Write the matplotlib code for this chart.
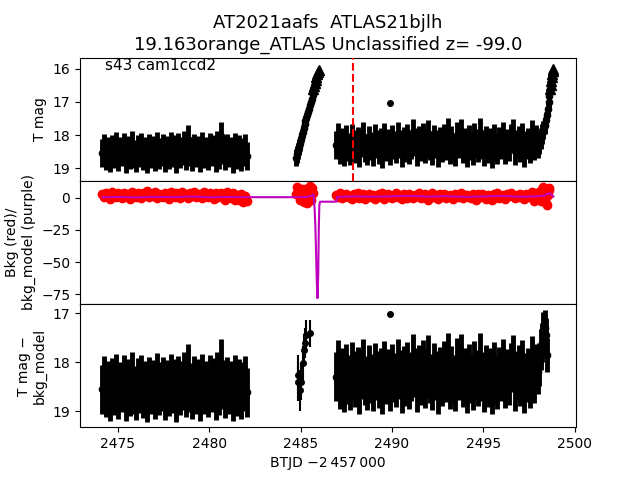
import matplotlib.pyplot as plt

# segment 1 (before the gap)
t1 = [2474.15, 2474.26, 2474.36, 2474.47, 2474.58, 2474.68, 2474.79, 2474.90, 2475.00, 2475.11,
      2475.22, 2475.32, 2475.43, 2475.54, 2475.64, 2475.75, 2475.86, 2475.96, 2476.07, 2476.18,
      2476.28, 2476.39, 2476.50, 2476.60, 2476.71, 2476.82, 2476.92, 2477.03, 2477.14, 2477.24,
      2477.35, 2477.46, 2477.56, 2477.67, 2477.78, 2477.88, 2477.99, 2478.10, 2478.20, 2478.31,
      2478.42, 2478.52, 2478.63, 2478.74, 2478.84, 2478.95, 2479.06, 2479.16, 2479.27, 2479.38,
      2479.48, 2479.59, 2479.70, 2479.80, 2479.91, 2480.02, 2480.12, 2480.23, 2480.34, 2480.44,
      2480.55, 2480.66, 2480.76, 2480.87, 2480.98, 2481.08, 2481.19, 2481.30, 2481.40, 2481.51,
      2481.62, 2481.72, 2481.83, 2481.94, 2482.05]
mag1 = [18.55, 18.38, 18.62, 18.47, 18.70, 18.41, 18.58, 18.33, 18.66, 18.49,
        18.52, 18.36, 18.71, 18.44, 18.60, 18.30, 18.57, 18.68, 18.42, 18.53,
        18.35, 18.64, 18.48, 18.72, 18.39, 18.56, 18.45, 18.67, 18.32, 18.59,
        18.50, 18.40, 18.69, 18.46, 18.61, 18.34, 18.54, 18.43, 18.73, 18.37,
        18.58, 18.47, 18.29, 18.62, 18.12, 18.51, 18.66, 18.38, 18.55, 18.44,
        18.70, 18.33, 18.57, 18.48, 18.63, 18.36, 18.52, 18.41, 18.68, 18.30,
        18.59, 18.02, 18.45, 18.64, 18.39, 18.55, 18.47, 18.71, 18.35, 18.60,
        18.43, 18.66, 18.50, 18.38, 18.62]
bkg1 = [2.5, 0.2, 3.6, 1.4, -0.9, 4.1, 1.9, 0.7, 3.2, 2.1,
        -0.2, 3.8, 1.2, 2.7, -1.1, 4.4, 1.6, 0.5, 3.4, 2.3,
        -0.5, 3.9, 1.8, 5.2, 0.1, 2.9, 1.1, 4.3, -0.7, 3.1,
        2.0, 0.6, 3.7, 1.5, -1.3, 4.0, 2.4, 0.3, 3.5, 1.3,
        -0.1, 4.6, 1.7, 2.8, -0.6, 3.3, 1.0, 4.2, 0.4, 2.6,
        3.0, -0.3, 4.5, 1.9, 0.8, 3.6, 2.2, -0.8, 3.9, 1.4,
        0.1, 3.2, 2.5, -1.5, 4.1, 1.6, -0.4, 3.4, -2.2, 2.0,
        -1.8, 2.9, -3.1, 1.2, -2.5]

# segment 2 (short rise before the background dip)
t2 = [2484.76, 2484.81, 2484.86, 2484.91, 2484.96, 2485.01, 2485.06, 2485.11, 2485.16, 2485.21,
      2485.26, 2485.31, 2485.36, 2485.41, 2485.46, 2485.51, 2485.56, 2485.61, 2485.66]
mag2 = [18.68, 18.58, 18.47, 18.36, 18.25, 18.13, 18.01, 17.90, 17.79, 17.68,
        17.57, 17.47, 17.38, 17.29, 17.20, 17.10, 17.01, 16.92, 16.80]
err2 = [0.26, 0.25, 0.24, 0.23, 0.22, 0.21, 0.20, 0.19, 0.18, 0.17,
        0.16, 0.15, 0.15, 0.14, 0.13, 0.13, 0.12, 0.12, 0.11]
bkg2 = [3.0, 8.5, 6.0, 4.7, -1.8, 2.5, 7.0, 0.5, -3.5, 5.0,
        6.8, 2.0, -4.3, 1.0, 4.5, 9.0, -2.0, 7.8, 3.5]
t2u = [2485.70, 2485.74, 2485.78, 2485.82, 2485.86, 2485.90, 2485.94, 2485.98]
mag2u = [16.62, 16.52, 16.42, 16.33, 16.24, 16.16, 16.08, 16.02]
t2b = [2484.83, 2484.86, 2484.95, 2485.04, 2485.13, 2485.17, 2485.22, 2485.31, 2485.49]
diff2 = [18.26, 18.40, 18.57, 18.40, 18.02, 17.75, 17.61, 17.44, 17.41]
err2b = [0.40, 0.40, 0.42, 0.38, 0.35, 0.32, 0.30, 0.30, 0.28]

# segment 3 (after the gap)
t3 = [2486.95, 2487.06, 2487.16, 2487.27, 2487.37, 2487.48, 2487.58, 2487.69, 2487.79, 2487.90,
      2488.00, 2488.11, 2488.21, 2488.32, 2488.42, 2488.53, 2488.63, 2488.74, 2488.84, 2488.95,
      2489.05, 2489.16, 2489.26, 2489.37, 2489.47, 2489.58, 2489.68, 2489.79, 2489.89, 2490.00,
      2490.10, 2490.21, 2490.31, 2490.42, 2490.52, 2490.63, 2490.73, 2490.84, 2490.94, 2491.05,
      2491.15, 2491.26, 2491.36, 2491.47, 2491.57, 2491.68, 2491.78, 2491.89, 2491.99, 2492.10,
      2492.20, 2492.31, 2492.41, 2492.52, 2492.62, 2492.73, 2492.83, 2492.94, 2493.04, 2493.15,
      2493.25, 2493.36, 2493.46, 2493.57, 2493.67, 2493.78, 2493.88, 2493.99, 2494.09, 2494.20,
      2494.30, 2494.41, 2494.51, 2494.62, 2494.72, 2494.83, 2494.93, 2495.04, 2495.14, 2495.25,
      2495.35, 2495.46, 2495.56, 2495.67, 2495.77, 2495.88, 2495.98, 2496.09, 2496.19, 2496.30,
      2496.40, 2496.51, 2496.61, 2496.72, 2496.82, 2496.93, 2497.03, 2497.14, 2497.24, 2497.35,
      2497.45, 2497.56, 2497.66, 2497.77, 2497.87]
mag3 = [18.30, 18.05, 18.45, 18.22, 18.52, 18.12, 18.36, 18.48, 18.08, 18.28,
        18.41, 18.18, 18.55, 18.25, 18.03, 18.38, 18.47, 18.15, 18.33, 18.50,
        18.10, 18.27, 18.44, 18.20, 18.56, 18.06, 18.35, 18.23, 18.49, 18.13,
        18.31, 18.42, 18.02, 18.26, 18.53, 18.17, 18.39, 18.09, 18.46, 18.29,
        17.92, 18.21, 18.51, 18.14, 18.37, 18.04, 18.43, 18.24, 17.95, 18.34,
        18.48, 18.11, 18.27, 18.55, 18.19, 18.40, 18.07, 18.32, 17.90, 18.45,
        18.16, 18.36, 18.50, 18.01, 18.28, 17.93, 18.42, 18.22, 18.54, 18.12,
        18.33, 18.47, 18.06, 18.25, 18.39, 17.91, 18.30, 18.52, 18.14, 18.41,
        18.20, 18.57, 18.08, 18.35, 18.46, 18.18, 18.29, 18.03, 18.44, 18.23,
        18.37, 18.10, 17.94, 18.49, 18.27, 18.15, 18.40, 18.05, 18.53, 18.31,
        18.21, 18.43, 17.96, 18.34, 18.12]
bkg3 = [2.1, 0.4, 3.5, -0.6, 1.8, 2.9, 0.1, 1.4, -1.2, 2.6,
        0.8, 3.2, -0.3, 1.9, 2.4, -1.0, 1.1, 3.0, 0.5, 2.2,
        -0.8, 1.6, 2.8, 0.2, 3.4, -1.4, 1.3, 2.5, 0.7, -0.2,
        2.0, 3.6, 0.3, 1.7, -1.1, 2.7, 1.0, 0.0, 3.1, 1.5,
        -0.7, 2.3, 0.9, 3.3, -0.4, 1.2, 2.6, 0.6, -1.6, 2.0,
        3.2, 0.4, 1.8, -0.9, 2.5, 1.1, 3.0, -0.1, 1.6, 2.3,
        0.2, -1.3, 2.8, 1.4, 0.5, 3.4, -0.5, 1.9, 2.2, 0.8,
        -0.3, 2.9, 1.0, -1.5, 2.4, 0.3, 3.1, 1.7, -0.8, 2.1,
        1.2, -2.2, 2.6, 0.6, 3.3, -0.2, 1.5, 2.0, -1.0, 2.7,
        0.9, 3.5, 1.3, -0.6, 2.2, 0.1, 2.8, 1.6, -1.2, 3.0,
        0.7, 2.4, 4.5, -3.0, 3.8]

# final rise at the end of segment 3
t4 = [2497.98, 2498.06, 2498.14, 2498.21, 2498.28, 2498.35, 2498.41, 2498.47, 2498.52, 2498.57, 2498.61]
mag4 = [18.32, 18.22, 18.10, 17.97, 17.84, 17.70, 17.55, 17.38, 17.20, 17.00, 16.82]
err4 = [0.36, 0.34, 0.32, 0.30, 0.28, 0.26, 0.24, 0.22, 0.20, 0.18, 0.16]
bkg4 = [1.8, 4.2, -2.5, 6.5, 8.0, 3.0, -4.5, -6.0, 2.0, 5.5, 7.5]
t4u = [2498.65, 2498.69, 2498.72, 2498.75, 2498.78, 2498.81, 2498.83]
mag4u = [16.62, 16.48, 16.36, 16.25, 16.15, 16.06, 16.00]
t4b = [2497.98, 2498.06, 2498.14, 2498.21, 2498.28, 2498.35, 2498.41, 2498.46]
diff4 = [18.20, 18.05, 17.75, 17.60, 17.35, 17.30, 17.45, 17.85]
err4b = [0.45, 0.44, 0.42, 0.40, 0.38, 0.36, 0.36, 0.35]

# isolated point
t_out = [2489.90]
mag_out = [17.02]

# background model
mod_t = [2474.15, 2475.0, 2476.0, 2477.0, 2478.0, 2479.0, 2480.0, 2481.0, 2482.05,
         2484.76, 2485.3, 2485.62, 2485.68, 2485.72, 2485.76, 2485.80, 2485.84, 2485.88,
         2485.92, 2485.96, 2485.99, 2486.02, 2486.06, 2486.95, 2487.00, 2488.0, 2489.0,
         2490.0, 2491.0, 2492.0, 2493.0, 2494.0, 2495.0, 2496.0, 2497.0, 2498.0, 2498.3,
         2498.5, 2498.65, 2498.75, 2498.83]
mod_v = [0.2, 0.5, 0.1, 0.6, 0.3, 0.8, 0.2, 0.5, 0.3,
         0.3, 0.4, 1.5, 2.5, 1.0, -8, -21, -42, -65,
         -78, -60, -25, -6, -3.2, -3.2, 0.5, 1.0, 0.6,
         1.0, 1.3, 0.7, 1.1, 0.5, 0.9, 1.3, 0.6, 1.0, 1.5,
         2.8, 3.4, 2.0, 0.8]

err_top = 0.42
err_bot = 0.50

fig, (ax1, ax2, ax3) = plt.subplots(3, 1, sharex=True, figsize=(6.4, 4.8))
fig.subplots_adjust(hspace=0)

band = dict(fmt='o', color='k', ms=4.5, elinewidth=3.5)

# top panel
ax1.errorbar(t1, mag1, yerr=err_top, **band)
ax1.errorbar(t2, mag2, yerr=err2, **band)
ax1.errorbar(t2u, mag2u, yerr=0.08, fmt='^', color='k', ms=7)
ax1.errorbar(t3, mag3, yerr=err_top, **band)
ax1.errorbar(t4, mag4, yerr=err4, **band)
ax1.errorbar(t4u, mag4u, yerr=0.08, fmt='^', color='k', ms=7)
ax1.plot(t_out, mag_out, 'o', color='k', ms=4)
ax1.axvline(2487.88, color='r', ls='--', lw=1.5, zorder=5)
ax1.set_ylim(19.38, 15.66)
ax1.set_yticks([16, 17, 18, 19])
ax1.set_ylabel('T mag')
ax1.text(0.05, 0.9, 's43 cam1ccd2', transform=ax1.transAxes, fontsize=11)
ax1.set_title('AT2021aafs  ATLAS21bjlh\n19.163orange_ATLAS Unclassified z= -99.0', fontsize=13)

# middle panel
for tt, bb in [(t1, bkg1), (t2, bkg2), (t3, bkg3), (t4, bkg4)]:
    ax2.plot(tt, bb, 'o', color='r', ms=6)
ax2.plot(mod_t, mod_v, color='m', lw=1.5, zorder=4)
ax2.set_ylim(-82.5, 13)
ax2.set_yticks([0, -25, -50, -75])
ax2.set_ylabel('Bkg (red)/\nbkg_model (purple)')

# bottom panel
ax3.errorbar(t1, mag1, yerr=err_bot, **band)
ax3.errorbar(t2b, diff2, yerr=err2b, fmt='o', color='k', ms=4)
ax3.errorbar(t3, mag3, yerr=err_bot, **band)
ax3.errorbar(t4b, diff4, yerr=err4b, **band)
ax3.plot(t_out, mag_out, 'o', color='k', ms=4)
ax3.set_ylim(19.33, 16.81)
ax3.set_yticks([17, 18, 19])
ax3.set_ylabel('T mag \u2212\nbkg_model')
ax3.set_xlim(2472.92, 2500.07)
ax3.set_xlabel('BTJD \u22122\u2009457\u2009000')

plt.savefig('out.png', dpi=100)
